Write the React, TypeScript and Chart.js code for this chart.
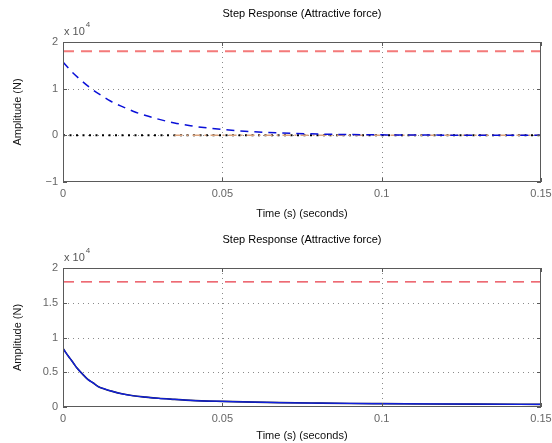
import React, { useEffect, useRef } from 'react';
import { Chart, registerables } from 'chart.js';
Chart.register(...registerables);

const FONT = '"Liberation Sans", Arial, Helvetica, sans-serif';

// ---- text / ticks ----
const titleText = 'Step Response (Attractive force)';
const xLabel = 'Time (s) (seconds)';
const yLabel = 'Amplitude (N)';
const exponentBase = 'x 10';
const exponentPower = '4';
const scaleFactor = 1e4;

const xTicks = [0, 0.05, 0.1, 0.15];
const topYTicks = [-1, 0, 1, 2];
const bottomYTicks = [0, 0.5, 1, 1.5, 2];

// ---- top plot data (N) ----
const topRefTime = [0, 0.15];
const topRefForce = [18000, 18000];
const topDecayTime = [0, 0.0025, 0.005, 0.0085, 0.012, 0.015, 0.0188, 0.023, 0.0295, 0.035, 0.04, 0.045, 0.05, 0.057, 0.064, 0.072, 0.08, 0.09, 0.1, 0.115, 0.13, 0.15];
const topDecayForce = [15700, 13800, 12200, 10200, 8550, 7300, 6100, 4900, 3550, 2650, 2050, 1600, 1250, 880, 620, 410, 280, 165, 100, 50, 25, 10];
const topZeroTime = [0, 0.15];
const topZeroForce = [0, 0];
const topDashDotTime = [0.035, 0.15];
const topDashDotForce = [0, 0];

// ---- bottom plot data (N) ----
const bottomRefTime = [0, 0.15];
const bottomRefForce = [18000, 18000];
const bottomTime = [0, 0.001, 0.0022, 0.0033, 0.0044, 0.006, 0.0077, 0.0095, 0.011, 0.013, 0.0155, 0.0185, 0.022, 0.026, 0.03, 0.035, 0.04, 0.05, 0.06, 0.068, 0.08, 0.09, 0.1, 0.115, 0.13, 0.15];
const bottomForce = [8450, 7750, 7000, 6300, 5600, 4800, 4000, 3450, 2950, 2600, 2250, 1900, 1620, 1420, 1250, 1100, 960, 810, 700, 630, 560, 510, 480, 440, 410, 380];
const bottomZeroTime = [0, 0.15];
const bottomZeroForce = [0, 0];

const pts = (xs: number[], ys: number[]) => xs.map((x, i) => ({ x, y: ys[i] }));

const fmtY = (v: number) => {
  const n = Math.round((v / scaleFactor) * 1000) / 1000;
  return n < 0 ? '\u2212' + Math.abs(n) : String(n);
};
const fmtX = (v: number) => String(+v.toFixed(3));

function framePlugin(titleY: number) {
  return {
    id: 'frame',
    beforeDatasetsDraw(chart: any) {
      const { ctx, chartArea: a, scales } = chart;
      ctx.save();
      ctx.strokeStyle = '#8a8a8a';
      ctx.lineWidth = 1;
      ctx.setLineDash([1, 4]);
      scales.x.ticks.forEach((t: any, i: number) => {
        if (i === 0 || i === scales.x.ticks.length - 1) return;
        const px = Math.round(scales.x.getPixelForValue(t.value)) + 0.5;
        ctx.beginPath();
        ctx.moveTo(px, a.top);
        ctx.lineTo(px, a.bottom);
        ctx.stroke();
      });
      scales.y.ticks.forEach((t: any, i: number) => {
        if (i === 0 || i === scales.y.ticks.length - 1) return;
        const py = Math.round(scales.y.getPixelForValue(t.value)) + 0.5;
        ctx.beginPath();
        ctx.moveTo(a.left, py);
        ctx.lineTo(a.right, py);
        ctx.stroke();
      });
      ctx.restore();
    },
    afterDatasetsDraw(chart: any) {
      const { ctx, chartArea: a, scales } = chart;
      ctx.save();
      ctx.setLineDash([]);
      ctx.strokeStyle = '#5a5a5a';
      ctx.lineWidth = 1;
      ctx.strokeRect(a.left + 0.5, a.top + 0.5, a.right - a.left - 1, a.bottom - a.top - 1);
      ctx.beginPath();
      scales.x.ticks.forEach((t: any) => {
        const px = Math.round(scales.x.getPixelForValue(t.value)) + 0.5;
        ctx.moveTo(px, a.top);
        ctx.lineTo(px, a.top + 4);
        ctx.moveTo(px, a.bottom);
        ctx.lineTo(px, a.bottom - 4);
      });
      scales.y.ticks.forEach((t: any) => {
        const py = Math.round(scales.y.getPixelForValue(t.value)) + 0.5;
        ctx.moveTo(a.left, py);
        ctx.lineTo(a.left + 4, py);
        ctx.moveTo(a.right, py);
        ctx.lineTo(a.right - 4, py);
      });
      ctx.stroke();
      // title
      ctx.fillStyle = '#000';
      ctx.font = `11px ${FONT}`;
      ctx.textAlign = 'center';
      ctx.textBaseline = 'middle';
      ctx.fillText(titleText, (a.left + a.right) / 2, titleY);
      // exponent
      ctx.fillStyle = '#555';
      ctx.textAlign = 'left';
      ctx.textBaseline = 'alphabetic';
      ctx.font = `11px ${FONT}`;
      ctx.fillText(exponentBase, a.left + 1, a.top - 7);
      const w = ctx.measureText(exponentBase).width;
      ctx.font = `8px ${FONT}`;
      ctx.fillText(exponentPower, a.left + 2 + w, a.top - 15);
      ctx.restore();
    },
  };
}

function makeChart(
  canvas: HTMLCanvasElement,
  datasets: any[],
  yTicks: number[],
  padTop: number,
  xAxisHeight: number,
  xTitlePad: number,
  titleY: number
) {
  return new Chart(canvas, {
    type: 'line',
    data: { datasets },
    options: {
      animation: false,
      responsive: false,
      devicePixelRatio: 1,
      layout: { padding: { top: padTop, right: 11, left: 0, bottom: 0 } },
      plugins: { legend: { display: false }, tooltip: { enabled: false }, title: { display: false } },
      elements: { point: { radius: 0 } },
      scales: {
        x: {
          type: 'linear',
          min: xTicks[0],
          max: xTicks[xTicks.length - 1],
          afterBuildTicks: (s: any) => {
            s.ticks = xTicks.map((value) => ({ value }));
          },
          afterFit: (s: any) => {
            s.height = xAxisHeight;
            s.paddingLeft = 0;
            s.paddingRight = 0;
          },
          grid: { display: false, drawTicks: false },
          border: { display: false },
          ticks: {
            padding: 5,
            maxRotation: 0,
            autoSkip: false,
            color: '#666',
            font: { family: FONT, size: 11 },
            callback: (v: any) => fmtX(Number(v)),
          },
          title: {
            display: true,
            text: xLabel,
            color: '#111',
            font: { family: FONT, size: 11 },
            padding: { top: xTitlePad, bottom: 0 },
          },
        },
        y: {
          type: 'linear',
          min: yTicks[0] * scaleFactor,
          max: yTicks[yTicks.length - 1] * scaleFactor,
          afterBuildTicks: (s: any) => {
            s.ticks = yTicks.map((v) => ({ value: v * scaleFactor }));
          },
          afterFit: (s: any) => {
            s.width = 63;
            s.paddingTop = 0;
            s.paddingBottom = 0;
          },
          grid: { display: false, drawTicks: false },
          border: { display: false },
          ticks: {
            padding: 5,
            autoSkip: false,
            color: '#666',
            font: { family: FONT, size: 11 },
            callback: (v: any) => fmtY(Number(v)),
          },
          title: {
            display: true,
            text: yLabel,
            color: '#111',
            font: { family: FONT, size: 11 },
            padding: { top: 11, bottom: 0 },
          },
        },
      },
    },
    plugins: [framePlugin(titleY)],
  } as any);
}

export default function App() {
  const topRef = useRef<HTMLCanvasElement>(null);
  const botRef = useRef<HTMLCanvasElement>(null);

  useEffect(() => {
    const topDatasets = [
      {
        data: pts(topDecayTime, topDecayForce),
        borderColor: '#0a10d8',
        borderWidth: 1.5,
        borderDash: [8, 6],
        cubicInterpolationMode: 'monotone',
        fill: false,
      },
      {
        data: pts(topDashDotTime, topDashDotForce),
        borderColor: '#d9a27c',
        borderWidth: 1.5,
        borderDash: [8, 4, 2, 4],
        fill: false,
      },
      {
        data: pts(topZeroTime, topZeroForce),
        borderColor: '#000',
        borderWidth: 2,
        borderDash: [2, 4.5],
        fill: false,
      },
      {
        data: pts(topRefTime, topRefForce),
        borderColor: '#f47a7a',
        borderWidth: 2,
        borderDash: [11, 7],
        fill: false,
      },
    ];
    const bottomDatasets = [
      {
        data: pts(bottomTime, bottomForce),
        borderColor: '#1020e0',
        borderWidth: 1.2,
        cubicInterpolationMode: 'monotone',
        fill: false,
      },
      {
        data: pts(bottomTime, bottomForce),
        borderColor: '#1a1a40',
        borderWidth: 1.6,
        cubicInterpolationMode: 'monotone',
        fill: false,
      },
      {
        data: pts(bottomZeroTime, bottomZeroForce),
        borderColor: '#000',
        borderWidth: 2,
        borderDash: [2, 4.5],
        fill: false,
      },
      {
        data: pts(bottomRefTime, bottomRefForce),
        borderColor: '#e83a46',
        borderWidth: 1.3,
        borderDash: [11, 7],
        fill: false,
      },
    ];
    const c1 = makeChart(topRef.current!, topDatasets, topYTicks, 42, 39, 6, 14);
    const c2 = makeChart(botRef.current!, bottomDatasets, bottomYTicks, 47, 36, 1, 19);
    return () => {
      c1.destroy();
      c2.destroy();
    };
  }, []);

  return (
    <div style={{ position: 'absolute', left: 0, top: 0, width: 552, height: 443, background: '#fff' }}>
      <canvas ref={topRef} width={552} height={221} style={{ position: 'absolute', left: 0, top: 0 }} />
      <canvas ref={botRef} width={552} height={222} style={{ position: 'absolute', left: 0, top: 221 }} />
    </div>
  );
}
